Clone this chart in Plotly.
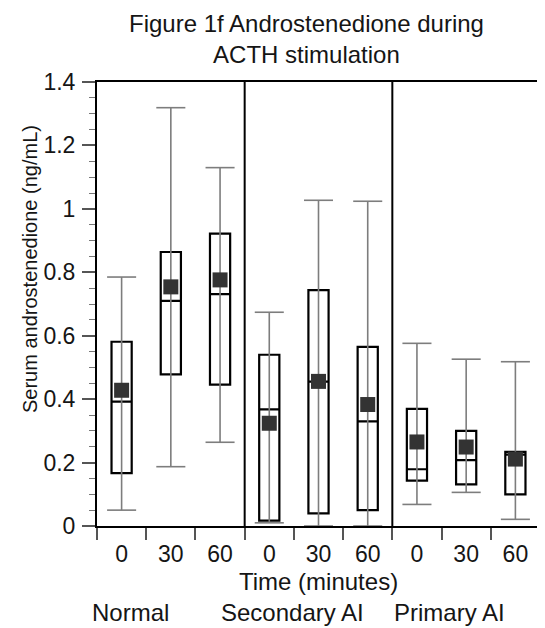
import plotly.graph_objects as go

groups = ["Normal", "Secondary AI", "Primary AI"]
times = ["0", "30", "60"]

# per box (Normal 0,30,60 | Secondary 0,30,60 | Primary 0,30,60)
whisker_low = [0.050, 0.187, 0.264, 0.010, 0.000, 0.000, 0.068, 0.106, 0.021]
q1          = [0.167, 0.478, 0.446, 0.017, 0.040, 0.050, 0.143, 0.131, 0.100]
median      = [0.392, 0.710, 0.731, 0.368, 0.455, 0.330, 0.179, 0.208, 0.225]
q3          = [0.581, 0.864, 0.922, 0.540, 0.744, 0.565, 0.369, 0.300, 0.234]
whisker_high= [0.785, 1.319, 1.130, 0.674, 1.027, 1.024, 0.576, 0.526, 0.518]
mean        = [0.428, 0.754, 0.776, 0.324, 0.456, 0.383, 0.265, 0.249, 0.211]

y_ticks = [0, 0.2, 0.4, 0.6, 0.8, 1.0, 1.2, 1.4]
y_tick_text = ["0", "0.2", "0.4", "0.6", "0.8", "1", "1.2", "1.4"]

n = len(mean)
xs = list(range(n))
labels = times * len(groups)

FONT = "Liberation Sans, Arial, Helvetica, sans-serif"
TXT = "#151515"
CAP = 0.295  # half cap width in category units

fig = go.Figure()

# whiskers (vertical + caps)
wx, wy = [], []
for i in xs:
    wx += [i, i, None, i - CAP, i + CAP, None, i - CAP, i + CAP, None]
    wy += [whisker_low[i], whisker_high[i], None,
           whisker_low[i], whisker_low[i], None,
           whisker_high[i], whisker_high[i], None]
fig.add_trace(go.Scatter(x=wx, y=wy, mode="lines",
                         line=dict(color="#7d7d7d", width=1.6),
                         hoverinfo="skip", showlegend=False))

# boxes
fig.add_trace(go.Box(
    x=xs, q1=q1, median=median, q3=q3,
    lowerfence=q1, upperfence=q3,
    width=0.41, whiskerwidth=0,
    fillcolor="white", line=dict(color="black", width=2.2),
    boxpoints=False, showlegend=False))

# means
fig.add_trace(go.Scatter(x=xs, y=mean, mode="markers",
                         marker=dict(symbol="square", size=15, color="#333333",
                                     line=dict(width=0)),
                         showlegend=False))

# group separators
per = len(times)
for g in range(1, len(groups)):
    b = g * per - 0.5
    fig.add_shape(type="line", xref="x", yref="paper", x0=b, x1=b, y0=0, y1=1,
                  line=dict(color="black", width=2))

boundaries = [k - 0.5 for k in range(n + 1)]

fig.update_layout(
    width=537, height=620,
    margin=dict(l=89, r=5, t=74, b=102, autoexpand=False),
    paper_bgcolor="white", plot_bgcolor="white",
    font=dict(family=FONT, size=23, color=TXT),
    showlegend=False,
    xaxis=dict(range=[-0.5, n - 0.5], tickmode="array", tickvals=boundaries,
               ticktext=[""] * len(boundaries), ticks="outside", ticklen=12,
               tickwidth=1.5, tickcolor="#555", showline=True, linecolor="black",
               linewidth=2, mirror=True, showgrid=False, zeroline=False),
    xaxis2=dict(overlaying="x", matches="x", side="bottom", anchor="y",
                tickmode="array", tickvals=xs, ticktext=labels,
                ticks="outside", ticklen=7, tickcolor="rgba(0,0,0,0)",
                showline=False, showgrid=False, zeroline=False,
                tickfont=dict(size=23, color=TXT)),
    yaxis=dict(range=[0, 1.4], tickmode="array", tickvals=y_ticks,
               ticktext=y_tick_text, ticks="outside", ticklen=13, tickwidth=1.5,
               tickcolor="#555", showline=True, linecolor="black", linewidth=2,
               mirror=True, showgrid=False, zeroline=False,
               ticklabelstandoff=2, tickfont=dict(size=23, color=TXT),
               minor=dict(dtick=0.05, tick0=0, ticks="outside", ticklen=6,
                          tickwidth=1.2, tickcolor="#777")),
)

# attach an invisible trace to xaxis2 so it renders
fig.add_trace(go.Scatter(x=xs, y=[None] * n, xaxis="x2", mode="markers",
                         showlegend=False, hoverinfo="skip"))

fig.add_annotation(text="Figure 1f Androstenedione during<br>ACTH stimulation",
                   xref="paper", yref="paper", x=0.473, y=1.0974,
                   xanchor="center", yanchor="middle", showarrow=False,
                   font=dict(size=24, family=FONT, color=TXT))
fig.add_annotation(text="Serum androstenedione (ng/mL)", textangle=-90,
                   xref="paper", yref="paper", x=-0.1512, y=0.5788,
                   xanchor="center", yanchor="middle", showarrow=False,
                   font=dict(size=20, family=FONT, color=TXT))
fig.add_annotation(text="Time (minutes)", xref="paper", yref="paper",
                   x=0.4989, y=-0.1239, xanchor="center", yanchor="middle",
                   showarrow=False, font=dict(size=24, family=FONT, color=TXT))
group_x = [0.0767, 0.4402, 0.7968]
for name, gx in zip(groups, group_x):
    fig.add_annotation(text=name, xref="paper", yref="paper",
                       x=gx, y=-0.1937, xanchor="center", yanchor="middle",
                       showarrow=False, font=dict(size=24, family=FONT, color=TXT))

fig.write_html("out.html")
